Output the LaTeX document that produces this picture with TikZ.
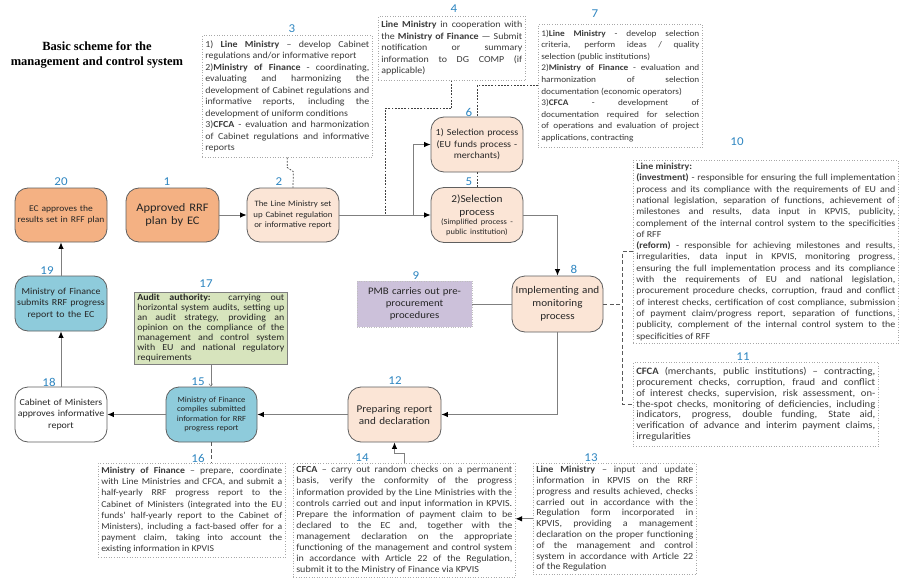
\documentclass[tikz,border=0pt]{standalone}
\usepackage{fontspec}
\setmainfont{Carlito}[FakeStretch=1.08]
\newfontfamily\titlefont{Liberation Serif}
\usetikzlibrary{arrows.meta,calc}
\setlength\parindent{0pt}
\tolerance=9999
\hbadness=10000
\definecolor{numblue}{HTML}{2E86C1}
\definecolor{orangefill}{HTML}{F4B183}
\definecolor{peach}{HTML}{FBE5D6}
\definecolor{bluefill}{HTML}{8ECBDB}
\definecolor{purplefill}{HTML}{CCC1DA}
\definecolor{greenfill}{HTML}{D7E4BD}
\definecolor{edgegray}{HTML}{5F5F5F}
\definecolor{conngray}{HTML}{7F7F7F}
\definecolor{notegray}{HTML}{A8A8A8}
\definecolor{notetext}{HTML}{3A3A3A}
\newcommand{\setfs}[2]{\fontsize{#1}{#2}\selectfont}
\begin{document}
\begin{tikzpicture}[x=1pt,y=-1pt,
  proc/.style={draw=edgegray, line width=0.8pt, rounded corners=13pt, align=center, inner sep=1pt, text=black!85},
  note/.style={draw=notegray, dotted, line width=0.6pt, fill=white, align=justify, anchor=north west, inner xsep=3pt, inner ysep=2pt, text=notetext},
  num/.style={text=numblue, font=\setfs{12}{12}, inner sep=0pt},
  conn/.style={draw=conngray, line width=0.9pt},
  arr/.style={conn, -{Latex[length=6.5pt,width=5.5pt,color=black]}},
  dotc/.style={draw=black!75, line width=0.7pt, dash pattern=on 1.8pt off 1.4pt},
  dashc/.style={draw=black!65, line width=0.7pt, dash pattern=on 4pt off 2.5pt},
]
\useasboundingbox[fill=white] (0,0) rectangle (900,578);

% title
\node[font=\titlefont\bfseries\setfs{12.5}{14.5}, align=center] (title) at (97,55) {Basic scheme for the\\management and control system};

% process nodes
\node[proc, fill=orangefill, minimum width=92pt, minimum height=54pt, text width=88pt, font=\setfs{8.8}{10.7}] (p20) at (61,215) {EC approves the\\results set in RFF plan};
\node[proc, fill=orangefill, minimum width=93pt, minimum height=54pt, text width=89pt, font=\setfs{11.5}{13}] (p1) at (172.5,215) {Approved RRF\\plan by EC};
\node[proc, fill=peach, minimum width=92pt, minimum height=54pt, text width=88pt, font=\setfs{8.2}{10.6}] (p2) at (293,215) {The Line Ministry set\\up Cabinet regulation\\or informative report};
\node[proc, fill=peach, minimum width=92pt, minimum height=55pt, text width=88pt, font=\setfs{9.3}{11.6}] (p6) at (477,144.5) {1) Selection process\\(EU funds process -\\merchants)};
\node[proc, fill=peach, minimum width=92pt, minimum height=55pt, text width=88pt] (p5) at (477,215) {{\setfs{10.5}{13}2)Selection\\process\par}{\setfs{7.8}{9.6}(Simplified process -\\public institution)\par}};
\node[proc, fill=peach, minimum width=91pt, minimum height=56pt, text width=87pt, font=\setfs{10.3}{12.8}] (p8) at (557.5,304) {Implementing and\\monitoring\\process};
\node[draw=black!25, dotted, fill=purplefill, minimum width=115pt, minimum height=46pt, text width=110pt, align=center, inner sep=1pt, text=black!85, font=\setfs{10}{11.7}] (p9) at (414.5,304) {PMB carries out pre-\\procurement\\procedures};
\node[proc, fill=peach, minimum width=93pt, minimum height=55pt, text width=89pt, font=\setfs{10.3}{12}] (p12) at (394.5,414.5) {Preparing report\\and declaration};
\node[proc, fill=bluefill, minimum width=91pt, minimum height=55pt, text width=87pt, font=\setfs{7.9}{9.5}] (p15) at (211.5,414.5) {Ministry of Finance\\compiles submitted\\information for RRF\\progress report};
\node[proc, fill=white, minimum width=92pt, minimum height=55pt, text width=88pt, font=\setfs{9.2}{11.5}] (p18) at (61,414.5) {Cabinet of Ministers\\approves informative\\report};
\node[proc, fill=bluefill, minimum width=92pt, minimum height=55pt, text width=88pt, font=\setfs{9.2}{11.5}] (p19) at (61,303.5) {Ministry of Finance\\submits RRF progress\\report to the EC};

% note boxes
\node[note, text width=164pt, minimum height=122pt, font=\setfs{9.2}{11.5}] (b3) at (202,35) {1) \textbf{Line Ministry} – develop Cabinet\linebreak regulations and/or informative report\\ 2)\textbf{Ministry of Finance} - coordinating,\linebreak evaluating and harmonizing the\linebreak development of Cabinet regulations and\linebreak informative reports, including the\linebreak development of uniform conditions\\ 3)\textbf{CFCA} - evaluation and harmonization\linebreak of Cabinet regulations and informative\linebreak reports};
\node[note, text width=141pt, minimum height=64pt, font=\setfs{9.2}{11.6}] (b4) at (378,16) {\textbf{Line Ministry} in cooperation with\linebreak the \textbf{Ministry of Finance} — Submit\linebreak notification or summary\linebreak information to DG COMP (if\linebreak applicable)};
\node[note, text width=158pt, minimum height=123pt, font=\setfs{8.6}{11.6}] (b7) at (538,24) {1)\textbf{Line Ministry} - develop selection\linebreak criteria, perform ideas / quality\linebreak selection (public institutions)\\ 2)\textbf{Ministry of Finance} - evaluation and\linebreak harmonization of selection\linebreak documentation (economic operators)\\ 3)\textbf{CFCA} - development of\linebreak documentation required for selection\linebreak of operations and evaluation of project\linebreak applications, contracting};
\node[note, text width=259pt, minimum height=183pt, inner ysep=1pt, font=\setfs{9.2}{11.3}] (b10) at (633,160) {\textbf{Line ministry:}\\ \textbf{(investment)} - responsible for ensuring the full implementation\linebreak process and its compliance with the requirements of EU and\linebreak national legislation, separation of functions, achievement of\linebreak milestones and results, data input in KPVIS, publicity,\linebreak complement of the internal control system to the specificities\linebreak of RFF\\ \textbf{(reform)} - responsible for achieving milestones and results,\linebreak irregularities, data input in KPVIS, monitoring progress,\linebreak ensuring the full implementation process and its compliance\linebreak with the requirements of EU and national legislation,\linebreak procurement procedure checks, corruption, fraud and conflict\linebreak of interest checks, certification of cost compliance, submission\linebreak of payment claim/progress report, separation of functions,\linebreak publicity, complement of the internal control system to the\linebreak specificities of RFF};
\node[note, text width=239pt, minimum height=84pt, font=\setfs{9.8}{10.9}] (b11) at (633,362) {\textbf{CFCA} (merchants, public institutions) – contracting,\linebreak procurement checks, corruption, fraud and conflict\linebreak of interest checks, supervision, risk assessment, on-\linebreak the-spot checks, monitoring of deficiencies, including\linebreak indicators, progress, double funding, State aid,\linebreak verification of advance and interim payment claims,\linebreak irregularities};
\node[note, solid, draw=edgegray!80, fill=greenfill, text=black!85, text width=147pt, minimum height=72pt, inner ysep=1pt, font=\setfs{9.2}{10}] (b17) at (134,292) {\textbf{Audit authority:} carrying out\linebreak horizontal system audits, setting up\linebreak an audit strategy, providing an\linebreak opinion on the compliance of the\linebreak management and control system\linebreak with EU and national regulatory\linebreak requirements};
\node[note, text width=181pt, minimum height=94pt, font=\setfs{9.0}{11.2}] (b16) at (98,463) {\textbf{Ministry of Finance} – prepare, coordinate\linebreak with Line Ministries and CFCA, and submit a\linebreak half-yearly RRF progress report to the\linebreak Cabinet of Ministers (integrated into the EU\linebreak funds’ half-yearly report to the Cabinet of\linebreak Ministers), including a fact-based offer for a\linebreak payment claim, taking into account the\linebreak existing information in KPVIS};
\node[note, text width=216pt, minimum height=114pt, inner ysep=1.5pt, font=\setfs{9.3}{11.1}] (b14) at (293,463) {\textbf{CFCA} – carry out random checks on a permanent\linebreak basis, verify the conformity of the progress\linebreak information provided by the Line Ministries with the\linebreak controls carried out and input information in KPVIS.\linebreak Prepare the information of payment claim to be\linebreak declared to the EC and, together with the\linebreak management declaration on the appropriate\linebreak functioning of the management and control system\linebreak in accordance with Article 22 of the Regulation,\linebreak submit it to the Ministry of Finance via KPVIS};
\node[note, text width=157pt, minimum height=111pt, inner ysep=1.5pt, font=\setfs{9.3}{10.8}] (b13) at (533,463) {\textbf{Line Ministry} – input and update\linebreak information in KPVIS on the RRF\linebreak progress and results achieved, checks\linebreak carried out in accordance with the\linebreak Regulation form incorporated in\linebreak KPVIS, providing a management\linebreak declaration on the proper functioning\linebreak of the management and control\linebreak system in accordance with Article 22\linebreak of the Regulation};

% number labels
\node[num] (n1) at (167,182) {1};
\node[num] (n2) at (279,182) {2};
\node[num] (n3) at (292,29) {3};
\node[num] (n4) at (454,9) {4};
\node[num] (n5) at (469,182) {5};
\node[num] (n6) at (469,112) {6};
\node[num] (n7) at (595,14) {7};
\node[num] (n8) at (574,269) {8};
\node[num] (n9) at (416,276) {9};
\node[num] (n10) at (737,142) {10};
\node[num] (n11) at (743,357) {11};
\node[num] (n12) at (395,381) {12};
\node[num] (n13) at (591,458) {13};
\node[num] (n14) at (362,458) {14};
\node[num] (n15) at (198,382) {15};
\node[num] (n16) at (198,458) {16};
\node[num] (n17) at (206,284) {17};
\node[num] (n18) at (49,382) {18};
\node[num] (n19) at (47,271) {19};
\node[num] (n20) at (61,182) {20};

% junction coordinates
\coordinate (j4) at (385,215);
\coordinate (j6) at (413,215);

% solid connectors
\draw[arr] (p1.east) -- (p2.west);
\draw[arr] (p2.east) -- (p5.west);
\draw[arr] (j6) |- (p6.west);
\draw[arr] (p5.east) -| (p8.north);
\draw[conn] (p9.east) -- (p8.west);
\draw[arr] (p8.south) |- (p12.east);
\draw[arr] (p12.west) -- (p15.east);
\draw[arr] (p15.west) -- (p18.east);
\draw[arr] (p18.north) -- (p19.south);
\draw[arr] (p19.north) -- (p20.south);
\draw[arr] (b14.north) -- ++(0,-10) -| (p12.south);
\draw[arr] (b13.west) -- (b13.west -| b14.east);
\draw[conn, line width=0.6pt, -{To[length=3pt,width=4pt]}] (b17.south) -- (b17.south |- p15.north);

% dotted / dashed connectors
\draw[dotc] (b3.south) -- ++(0,10) -- ++(6,4) -- (p2.north);
\draw[dotc] (b4.south) -- ++(0,28) -| (j4);
\draw[dotc] (b7.west) -| (p6.north);
\draw[dotc] (p6.south) -- (p5.north);
\draw[dashc] (p15.south) -- (p15.south |- b16.north);
\draw[dashc] (b10.west) -- ++(-11,0) coordinate (br1) -- (br1 |- b11.west) -- (b11.west);
\draw[dashc] (p8.east) -- (br1 |- p8.east);
\end{tikzpicture}
\end{document}
